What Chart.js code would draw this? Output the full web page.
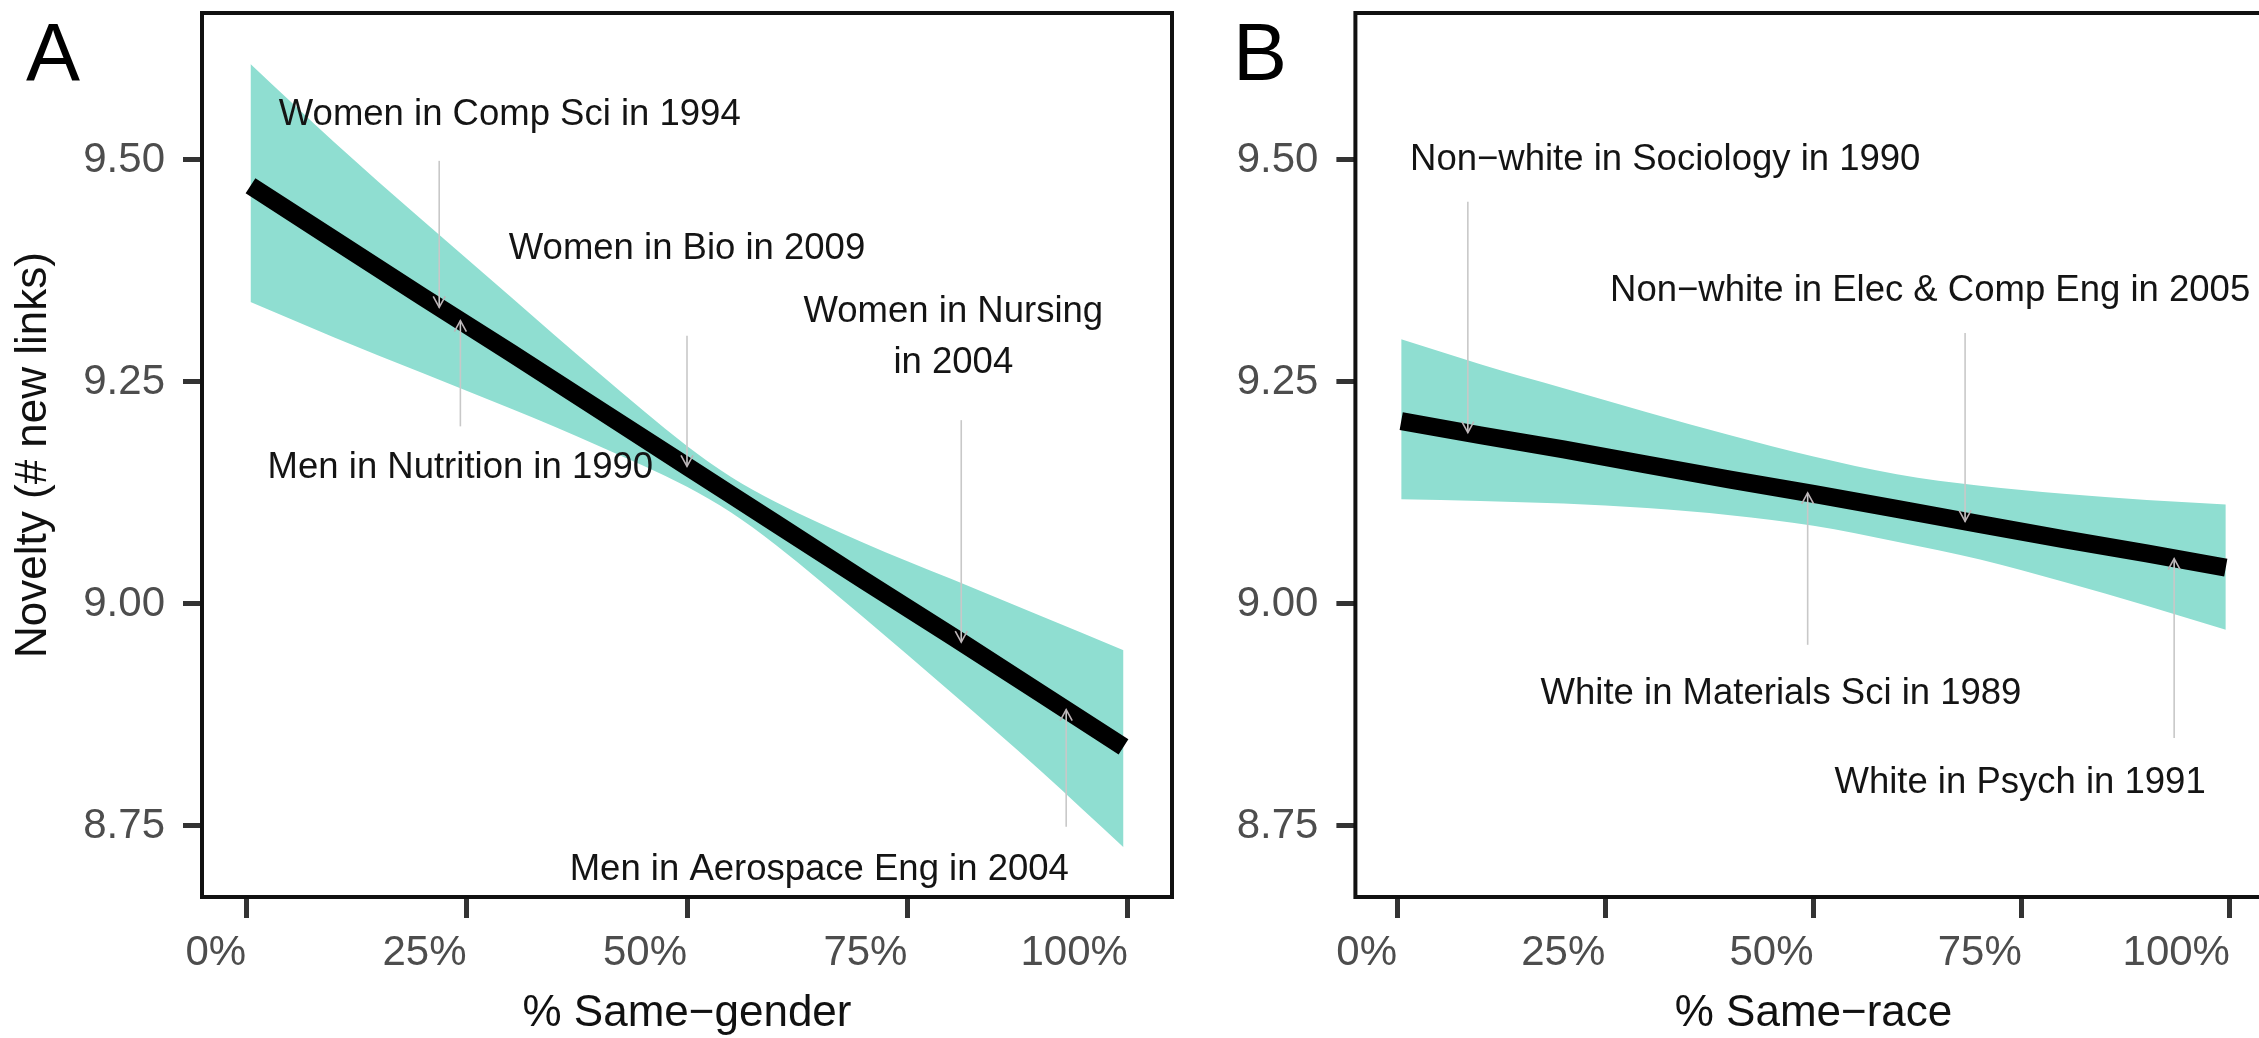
<!DOCTYPE html>
<html>
<head>
<meta charset="utf-8">
<script src="https://cdn.jsdelivr.net/npm/chart.js@4.4.1/dist/chart.umd.min.js"></script>
<style>
  html, body { margin: 0; padding: 0; background: #ffffff; overflow: hidden; width: 2259px; height: 1038px; }
  #chartA { position: absolute; left: 0; top: 0; }
  #chartB { position: absolute; left: 1200px; top: 0; }
</style>
</head>
<body>
<canvas id="chartA" width="1200" height="1038"></canvas>
<canvas id="chartB" width="1100" height="1038"></canvas>
<script>
// ---- axis ticks ----
const X_TICKS = [0, 25, 50, 75, 100];
const Y_TICKS = [8.75, 9.00, 9.25, 9.50];

// ---- Panel A: novelty vs % same-gender ----
const genderX     = [0.5,   10,    20,    30,    40,    50,    55,    60,    70,    80,    90,    99.5];
const genderFit   = [9.471, 9.410, 9.346, 9.283, 9.219, 9.155, 9.123, 9.091, 9.027, 8.964, 8.900, 8.839];
const genderUpper = [9.608, 9.520, 9.432, 9.346, 9.260, 9.178, 9.143, 9.115, 9.069, 9.028, 8.987, 8.948];
const genderLower = [9.340, 9.300, 9.260, 9.220, 9.178, 9.132, 9.103, 9.067, 8.985, 8.900, 8.813, 8.726];

const genderNoteText = [
  ["Women in Comp Sci in 1994"],
  ["Women in Bio in 2009"],
  ["Women in Nursing", "in 2004"],
  ["Men in Nutrition in 1990"],
  ["Men in Aerospace Eng in 2004"]
];
const genderNoteX      = [29.9, 50.0, 80.2, 24.3, 65.0];
const genderNoteY      = [9.551, 9.400, 9.300, 9.153, 8.700];
const genderPointX     = [21.9, 50.0, 81.1, 24.3, 93.0];
const genderPointY     = [9.334, 9.155, 8.957, 9.319, 8.881];
const genderLeaderFrom = [9.499, 9.302, 9.207, 9.200, 8.749];

// ---- Panel B: novelty vs % same-race ----
const raceX     = [0.5,   10,    20,    30,    40,    50,    60,    70,    80,    90,    99.5];
const raceFit   = [9.206, 9.190, 9.174, 9.157, 9.140, 9.124, 9.107, 9.090, 9.073, 9.057, 9.041];
const raceUpper = [9.298, 9.270, 9.243, 9.216, 9.190, 9.166, 9.146, 9.133, 9.124, 9.117, 9.112];
const raceLower = [9.118, 9.116, 9.113, 9.108, 9.100, 9.088, 9.070, 9.050, 9.025, 8.998, 8.971];

const raceNoteText = [
  ["Non\u2212white in Sociology in 1990"],
  ["Non\u2212white in Elec & Comp Eng in 2005"],
  ["White in Materials Sci in 1989"],
  ["White in Psych in 1991"]
];
const raceNoteX      = [32.2, 64.0, 46.1, 74.8];
const raceNoteY      = [9.500, 9.353, 8.899, 8.798];
const racePointX     = [8.5, 68.2, 49.3, 93.3];
const racePointY     = [9.193, 9.093, 9.125, 9.051];
const raceLeaderFrom = [9.453, 9.305, 8.954, 8.849];

// ---- styling ----
const FONT = '"Liberation Sans", Arial, Helvetica, sans-serif';
const BAND = '#8fded1';
const LEADER = '#c8c8c8';

function pairs(xs, ys) { return xs.map((x, i) => ({ x: x, y: ys[i] })); }

function notes(text, lx, ly, px, py, from) {
  return text.map((t, i) => ({ text: t, lx: lx[i], ly: ly[i], px: px[i], py: py[i], from: from[i] }));
}

// Frame, panel letter, leader arrows and annotation labels
const decor = {
  id: 'decor',
  afterDatasetsDraw(chart, args, opts) {
    const { ctx, scales: { x, y } } = chart;
    ctx.save();
    ctx.lineCap = 'butt';
    opts.notes.forEach(n => {
      const px = x.getPixelForValue(n.px);
      const py = y.getPixelForValue(n.py);
      const sy = y.getPixelForValue(n.from);
      ctx.strokeStyle = LEADER;
      ctx.lineWidth = 1.6;
      ctx.beginPath(); ctx.moveTo(px, sy); ctx.lineTo(px, py); ctx.stroke();
      const dir = py > sy ? 1 : -1;
      ctx.strokeStyle = '#bdb5b8';
      ctx.beginPath();
      ctx.moveTo(px - 6, py - dir * 11);
      ctx.lineTo(px, py);
      ctx.lineTo(px + 6, py - dir * 11);
      ctx.stroke();
    });
    ctx.fillStyle = '#141414';
    ctx.font = '36.5px ' + FONT;
    ctx.textAlign = 'center';
    ctx.textBaseline = 'middle';
    opts.notes.forEach(n => {
      const cx = x.getPixelForValue(n.lx);
      const cy = y.getPixelForValue(n.ly);
      const lh = 51;
      n.text.forEach((t, i) => ctx.fillText(t, cx, cy + (i - (n.text.length - 1) / 2) * lh));
    });
    ctx.restore();
  },
  afterDraw(chart, args, opts) {
    const { ctx, chartArea: a } = chart;
    ctx.save();
    ctx.strokeStyle = '#111';
    ctx.lineWidth = 4;
    ctx.strokeRect(a.left, a.top, a.right - a.left, a.bottom - a.top);
    ctx.fillStyle = '#000';
    ctx.font = '81px ' + FONT;
    ctx.textAlign = 'left';
    ctx.textBaseline = 'alphabetic';
    ctx.fillText(opts.letter, opts.letterX, 80);
    ctx.restore();
  }
};

function makeChart(id, cfg) {
  return new Chart(document.getElementById(id), {
    type: 'line',
    data: {
      datasets: [
        { data: pairs(cfg.x, cfg.fit), borderColor: '#000', borderWidth: 18, borderCapStyle: 'butt',
          pointRadius: 0, fill: false, tension: 0 },
        { data: pairs(cfg.x, cfg.upper), borderWidth: 0, borderColor: 'rgba(0,0,0,0)', backgroundColor: BAND,
          pointRadius: 0, fill: '+1', cubicInterpolationMode: 'monotone' },
        { data: pairs(cfg.x, cfg.lower), borderWidth: 0, borderColor: 'rgba(0,0,0,0)',
          pointRadius: 0, fill: false, cubicInterpolationMode: 'monotone' }
      ]
    },
    options: {
      responsive: false,
      animation: false,
      events: [],
      layout: { padding: { top: 13, right: cfg.padRight, left: 0, bottom: 0 } },
      plugins: {
        legend: { display: false },
        tooltip: { enabled: false },
        decor: { notes: cfg.notes, letter: cfg.letter, letterX: cfg.letterX }
      },
      scales: {
        x: {
          type: 'linear', min: -5, max: 105, position: 'bottom',
          afterBuildTicks: s => { s.ticks = X_TICKS.map(v => ({ value: v })); },
          afterFit: s => { s.height = 141; s.paddingLeft = 0; s.paddingRight = 0; },
          ticks: { align: 'end', padding: 10, color: '#4d4d4d', autoSkip: false, maxRotation: 0,
                   font: { family: FONT, size: 42 }, callback: v => v + '%' },
          grid: { display: true, drawOnChartArea: false, drawTicks: true, tickLength: 21,
                  tickWidth: 5, tickColor: '#333', color: 'rgba(0,0,0,0)' },
          border: { display: false },
          title: { display: true, text: cfg.xTitle, color: '#111',
                   font: { family: FONT, size: 44, lineHeight: 1 }, padding: { top: 0, bottom: 2 } }
        },
        y: {
          type: 'linear', min: 8.670, max: 9.6655, position: 'left',
          afterBuildTicks: s => { s.ticks = Y_TICKS.map(v => ({ value: v })); },
          afterFit: s => { s.width = cfg.yWidth; s.paddingTop = 0; s.paddingBottom = 0; },
          ticks: { padding: 18, color: '#4d4d4d', autoSkip: false,
                   font: { family: FONT, size: 42 }, callback: v => Number(v).toFixed(2) },
          grid: { display: true, drawOnChartArea: false, drawTicks: true, tickLength: 19,
                  tickWidth: 5, tickColor: '#333', color: 'rgba(0,0,0,0)' },
          border: { display: false },
          title: { display: cfg.yTitle !== '', text: cfg.yTitle, color: '#111',
                   font: { family: FONT, size: 44, lineHeight: 1 }, padding: { top: 12, bottom: 0 } }
        }
      }
    },
    plugins: [decor]
  });
}

function draw() {
  makeChart('chartA', {
    x: genderX, fit: genderFit, upper: genderUpper, lower: genderLower,
    notes: notes(genderNoteText, genderNoteX, genderNoteY, genderPointX, genderPointY, genderLeaderFrom),
    letter: 'A', letterX: 26, padRight: 28, yWidth: 202,
    xTitle: '% Same\u2212gender', yTitle: 'Novelty (# new links)'
  });
  makeChart('chartB', {
    x: raceX, fit: raceFit, upper: raceUpper, lower: raceLower,
    notes: notes(raceNoteText, raceNoteX, raceNoteY, racePointX, racePointY, raceLeaderFrom),
    letter: 'B', letterX: 33, padRight: 28.4, yWidth: 155.4,
    xTitle: '% Same\u2212race', yTitle: ''
  });
}

if (document.fonts && document.fonts.load) {
  Promise.all([
    document.fonts.load('42px "Liberation Sans"'),
    document.fonts.load('81px "Liberation Sans"')
  ]).then(draw, draw);
} else {
  draw();
}
</script>
</body>
</html>
